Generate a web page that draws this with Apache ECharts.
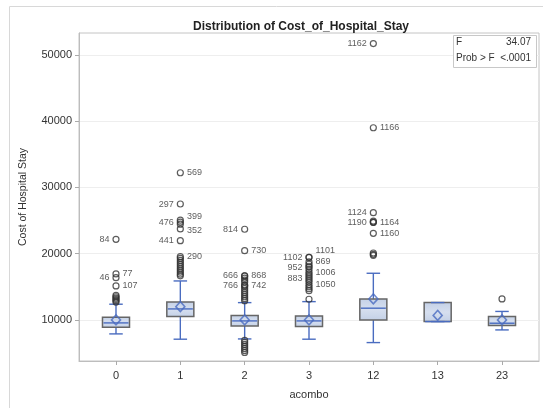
<!DOCTYPE html>
<html><head><meta charset="utf-8">
<script src="https://cdn.jsdelivr.net/npm/echarts@6/dist/echarts.min.js"></script>
<style>html,body{margin:0;padding:0;background:#fff}#c{width:543px;height:408px}</style>
</head><body><div id="c"></div>
<script>
// ---- data ----
const categories = ['0', '1', '2', '3', '12', '13', '23'];
const whiskerLow  = [7890, 7090, 7130, 7090, 6580, 9750, 8490];
const q1          = [8900, 10500, 9100, 8990, 10000, 9750, 9140];
const medians     = [9550, 11660, 9850, 9850, 11770, 9750, 9500];
const q3          = [10400, 12710, 10650, 10600, 13170, 12620, 10500];
const whiskerHigh = [12370, 15880, 12610, 12760, 17040, 12620, 11280];
const means       = [10000, 12000, 10000, 10000, 13170, 10680, 10000];
const yTicks = [10000, 20000, 30000, 40000, 50000];
// outliers: [category, value, id label]
const outliers = [
  ['0', 22170, '84'], ['0', 16940, '77'], ['0', 16380, '46'], ['0', 15130, '107'],
  ['0', 13700, ''], ['0', 13500, ''], ['0', 13300, ''], ['0', 13100, ''], ['0', 12900, ''], ['0', 12700, ''],
  ['1', 32210, '569'], ['1', 27490, '297'], ['1', 25050, '399'], ['1', 24750, '476'], ['1', 24450, ''],
  ['1', 23730, '352'], ['1', 21960, '441'], ['1', 19550, '290'],
  ['1', 19300, ''], ['1', 19000, ''], ['1', 18700, ''], ['1', 18400, ''], ['1', 18100, ''], ['1', 17800, ''],
  ['1', 17500, ''], ['1', 17200, ''], ['1', 16900, ''], ['1', 16650, ''],
  ['2', 23680, '814'], ['2', 20450, '730'], ['2', 16640, '666'], ['2', 16640, '868'], ['2', 15230, '766'], ['2', 15230, '742'],
  ['2', 16300, ''], ['2', 16000, ''], ['2', 15700, ''], ['2', 15000, ''], ['2', 14700, ''], ['2', 14400, ''],
  ['2', 14100, ''], ['2', 13800, ''], ['2', 13500, ''], ['2', 13200, ''], ['2', 12900, ''],
  ['2', 6900, ''], ['2', 6600, ''], ['2', 6300, ''], ['2', 6000, ''], ['2', 5700, ''], ['2', 5400, ''], ['2', 5100, ''],
  ['3', 19450, '1102'], ['3', 19450, '1101'], ['3', 18750, '869'], ['3', 17950, '952'], ['3', 17200, '1006'],
  ['3', 16300, '883'], ['3', 15300, '1050'],
  ['3', 18400, ''], ['3', 18100, ''], ['3', 17600, ''], ['3', 16900, ''], ['3', 16600, ''], ['3', 16000, ''],
  ['3', 15700, ''], ['3', 15000, ''], ['3', 14700, ''], ['3', 14420, ''], ['3', 13120, ''],
  ['12', 51700, '1162'], ['12', 39000, '1166'], ['12', 26180, '1124'], ['12', 24730, '1190'], ['12', 24730, '1164'],
  ['12', 24900, ''], ['12', 23070, '1160'], ['12', 20100, ''], ['12', 19900, ''], ['12', 19750, ''],
  ['23', 13170, '']
];
const statF = '34.07';
const statP = '<.0001';

// ---- styling ----
const BLUE = '#4a6cc0';
const leftLabels = ['84', '46', '297', '476', '441', '814', '666', '766', '1102', '952', '883', '1162', '1124', '1190'];
const labelShift = { '1101': -7, '399': -4, '352': 2 };
const FONT = '10px Liberation Sans, Arial, sans-serif';

const chart = echarts.init(document.getElementById('c'));
const idx = categories.map((c, i) => i);

const boxData = idx.map(i => [i, whiskerLow[i], q1[i], medians[i], q3[i], whiskerHigh[i]]);
const meanData = idx.map(i => [i, means[i]]);
const outData = outliers.map(o => {
  const lab = o[2];
  return {
    value: [categories.indexOf(o[0]), o[1]],
    label: {
      show: lab !== '',
      formatter: lab,
      position: leftLabels.indexOf(lab) >= 0 ? 'left' : 'right'
    }
  };
});

chart.setOption({
  animation: false,
  textStyle: { fontFamily: 'Liberation Sans, Arial, sans-serif' },
  title: {
    text: 'Distribution of Cost_of_Hospital_Stay',
    left: 188, top: 16,
    textStyle: { fontSize: 12, fontWeight: 'bold', color: '#222' }
  },
  grid: { left: 79, right: 4, top: 33, bottom: 47, show: true, borderColor: '#c4c4c4', borderWidth: 1 },
  xAxis: {
    type: 'value', min: -0.575, max: 6.575,
    name: 'acombo', nameLocation: 'middle', nameGap: 28,
    nameTextStyle: { fontSize: 11, color: '#333' },
    axisLine: { onZero: false, lineStyle: { color: '#bdbdbd' } },
    axisTick: { customValues: idx, length: 4, lineStyle: { color: '#aaa' } },
    axisLabel: { customValues: idx, formatter: v => categories[v], fontSize: 11, color: '#333', margin: 9 },
    splitLine: { show: false }
  },
  yAxis: {
    type: 'value', min: 3800, max: 53300,
    name: 'Cost of Hospital Stay', nameLocation: 'middle', nameGap: 50,
    nameTextStyle: { fontSize: 10.5, color: '#333' },
    axisLine: { show: true, onZero: false, lineStyle: { color: '#bdbdbd' } },
    axisTick: { show: true, customValues: yTicks, length: 4, lineStyle: { color: '#aaa' } },
    axisLabel: { customValues: yTicks, formatter: v => String(v), fontSize: 11, color: '#333', margin: 7 },
    splitLine: { show: true, lineStyle: { color: '#eeeeee' } }
  },
  graphic: [
    { type: 'rect', left: 7, top: 4, shape: { width: 534, height: 420 }, style: { fill: 'none', stroke: '#d8d8d8', lineWidth: 1 }, silent: true },
    { type: 'rect', left: 453, top: 35, shape: { width: 83, height: 32 }, style: { fill: '#fff', stroke: '#c8c8c8', lineWidth: 1 }, z: 10 },
    { type: 'text', left: 456, top: 37, style: { text: 'F', fill: '#333', font: FONT }, z: 11 },
    { type: 'text', right: 12, top: 37, style: { text: statF, fill: '#333', font: FONT }, z: 11 },
    { type: 'text', left: 456, top: 53, style: { text: 'Prob > F', fill: '#333', font: FONT }, z: 11 },
    { type: 'text', right: 12, top: 53, style: { text: statP, fill: '#333', font: FONT }, z: 11 }
  ],
  series: [
    {
      type: 'custom',
      data: boxData,
      encode: { x: 0, y: [1, 2, 3, 4, 5] },
      renderItem: function (params, api) {
        const x = api.value(0);
        const pLo = api.coord([x, api.value(1)]);
        const pQ1 = api.coord([x, api.value(2)]);
        const pMed = api.coord([x, api.value(3)]);
        const pQ3 = api.coord([x, api.value(4)]);
        const pHi = api.coord([x, api.value(5)]);
        const band = api.size([1, 0])[0];
        const half = band * 0.21, cap = band * 0.105;
        const cx = pMed[0];
        const ws = { stroke: BLUE, lineWidth: 1.4 };
        return {
          type: 'group',
          children: [
            { type: 'line', shape: { x1: cx, y1: pQ3[1], x2: cx, y2: pHi[1] }, style: ws },
            { type: 'line', shape: { x1: cx, y1: pQ1[1], x2: cx, y2: pLo[1] }, style: ws },
            { type: 'rect', shape: { x: cx - half, y: pQ3[1], width: 2 * half, height: pQ1[1] - pQ3[1] },
              style: { fill: new echarts.graphic.LinearGradient(0, 0, 0, 1, [
                { offset: 0, color: '#c3d0e6' }, { offset: 0.5, color: '#d6dfef' }, { offset: 1, color: '#c3d0e6' }]),
                stroke: '#666', lineWidth: 1.5 } },
            { type: 'line', shape: { x1: cx - cap, y1: pHi[1], x2: cx + cap, y2: pHi[1] }, style: ws },
            { type: 'line', shape: { x1: cx - cap, y1: pLo[1], x2: cx + cap, y2: pLo[1] }, style: ws },
            { type: 'line', shape: { x1: cx - half + 1, y1: pMed[1], x2: cx + half - 1, y2: pMed[1] }, style: ws }
          ]
        };
      },
      z: 2
    },
    {
      type: 'scatter',
      data: meanData,
      symbol: 'diamond',
      symbolSize: [9, 10],
      itemStyle: { color: 'rgba(255,255,255,0)', borderColor: BLUE, borderWidth: 1.6 },
      z: 4
    },
    {
      type: 'scatter',
      data: outData,
      symbol: 'circle',
      symbolSize: 6,
      itemStyle: { color: 'rgba(255,255,255,0)', borderColor: '#333', borderWidth: 1.2 },
      label: { fontSize: 9, color: '#333', distance: 3 },
      labelLayout: function (p) {
        const lab = outliers[p.dataIndex][2];
        return { dy: labelShift[lab] || 0, hideOverlap: false };
      },
      z: 3
    }
  ]
});
</script></body></html>
